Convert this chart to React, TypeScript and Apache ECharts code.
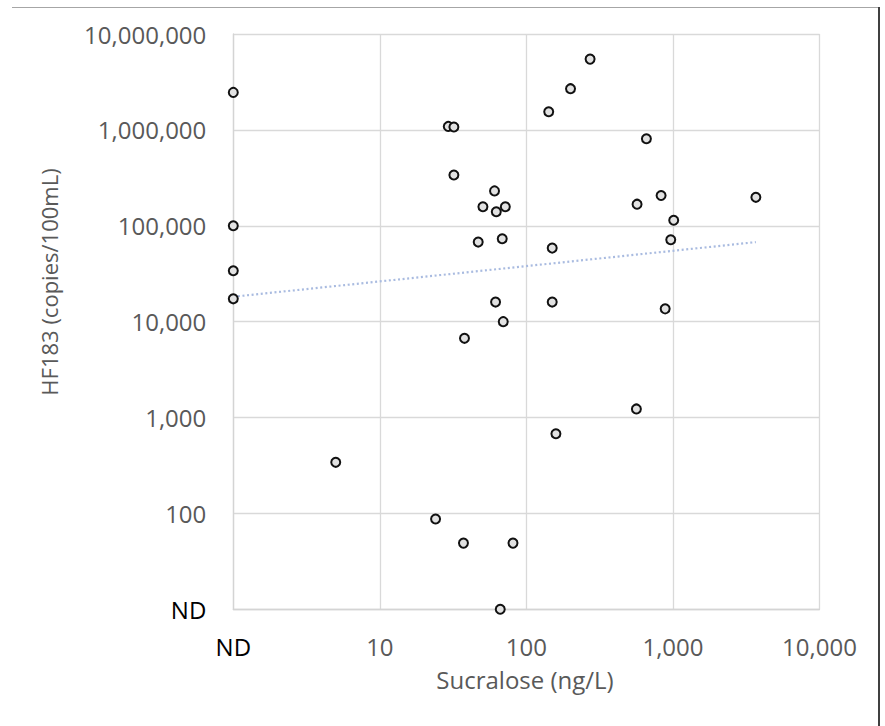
import React, { useEffect, useRef } from "react";
import * as echarts from "echarts";

// Sucralose (ng/L); 1 = ND
const sucralose = [
  1, 1, 1, 1,
  29.3, 32, 32, 60.6, 50.5, 62.3, 71.8, 46.9, 68.4, 150, 61.6, 150, 69.5, 37.8,
  272, 200, 142, 659, 569, 830, 1012, 966, 885, 3680,
  5.0, 159, 24, 37.2, 81, 66.3, 563,
];
// HF183 (copies/100mL); 10 = ND
const hf183 = [
  2460000, 100000, 34000, 17300,
  1087000, 1070000, 338000, 231000, 158000, 140000, 158000, 67600, 73100, 58500, 16000, 16000, 10000, 6700,
  5470000, 2690000, 1545000, 807000, 168000, 207000, 114000, 71400, 13600, 198000,
  341, 678, 87.5, 49, 49, 10, 1230,
];
// trendline endpoints (power fit, straight on log-log)
const trendX = [1, 3680];
const trendY = [18200, 67500];

const FONT = "'Open Sans', sans-serif";
const GRAY = "#595959";

export default function App() {
  const ref = useRef<HTMLDivElement>(null);
  useEffect(() => {
    document.body.style.margin = "0";
    const chart = echarts.init(ref.current!, null, { renderer: "svg" });
    const fmt = (v: number) => {
      const r = Math.round(v);
      return r.toLocaleString("en-US");
    };
    chart.setOption({
      animation: false,
      backgroundColor: "#ffffff",
      grid: { left: 233.3, top: 34, right: 65.5, bottom: 116.7, containLabel: false },
      xAxis: {
        type: "log",
        logBase: 10,
        min: 1,
        max: 10000,
        interval: 1,
        axisLine: { show: true, lineStyle: { color: "#d4d4d4", width: 1.3 } },
        axisTick: { show: false },
        splitLine: { show: true, lineStyle: { color: "#d9d9d9", width: 1.3 } },
        axisLabel: {
          margin: 25,
          fontSize: 24,
          fontFamily: FONT,
          color: GRAY,
          lineHeight: 24,
          formatter: (v: number) => (Math.round(v) === 1 ? "{nd|ND}" : fmt(v)),
          rich: { nd: { color: "#000000", fontSize: 24, fontFamily: FONT, lineHeight: 24 } },
        },
      },
      yAxis: {
        type: "log",
        logBase: 10,
        min: 10,
        max: 10000000,
        interval: 1,
        axisLine: { show: true, lineStyle: { color: "#d4d4d4", width: 1.3 } },
        axisTick: { show: false },
        splitLine: { show: true, lineStyle: { color: "#d9d9d9", width: 1.3 } },
        axisLabel: {
          margin: 27,
          fontSize: 24,
          fontFamily: FONT,
          color: GRAY,
          formatter: (v: number) => (Math.round(v) === 10 ? "{nd|ND}" : fmt(v)),
          rich: { nd: { color: "#000000", fontSize: 24, fontFamily: FONT } },
        },
      },
      series: [
        {
          type: "line",
          data: trendX.map((x, i) => [x, trendY[i]]),
          symbol: "none",
          lineStyle: { color: "#a9bbe0", width: 2.2, type: [2, 2.6], cap: "butt" },
          z: 1,
          silent: true,
        },
        {
          type: "scatter",
          data: sucralose.map((x, i) => [x, hf183[i]]),
          symbol: "circle",
          symbolSize: 9,
          clip: false,
          itemStyle: { color: "#e2e2e2", borderColor: "#111111", borderWidth: 2, opacity: 1 },
          z: 2,
        },
      ],
      graphic: [
        {
          type: "text",
          x: 525,
          y: 679,
          style: {
            text: "Sucralose (ng/L)",
            fontSize: 24,
            fontFamily: FONT,
            fill: GRAY,
            align: "center",
            verticalAlign: "middle",
          },
        },
        {
          type: "text",
          x: 49,
          y: 282,
          rotation: Math.PI / 2,
          style: {
            text: "HF183 (copies/100mL)",
            fontSize: 22,
            fontFamily: FONT,
            fill: GRAY,
            align: "center",
            verticalAlign: "middle",
          },
        },
        {
          type: "line",
          shape: { x1: 12, y1: 7.5, x2: 880, y2: 7.5 },
          style: { stroke: "#a6a6a6", lineWidth: 1 },
        },
        {
          type: "line",
          shape: { x1: 879, y1: 7, x2: 879, y2: 726 },
          style: { stroke: "#404040", lineWidth: 2 },
        },
      ],
    });
    return () => chart.dispose();
  }, []);
  return <div ref={ref} style={{ width: 885, height: 726 }} />;
}
